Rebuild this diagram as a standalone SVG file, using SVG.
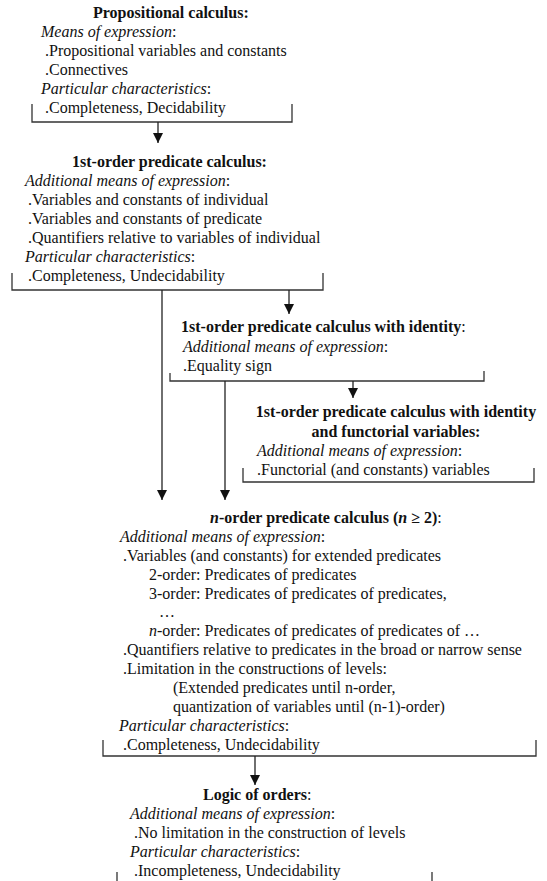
<svg xmlns="http://www.w3.org/2000/svg" width="547" height="881" viewBox="0 0 547 881">
<defs>
<style>
text{font-family:"Liberation Serif","Times New Roman",serif;font-size:16px;fill:#111}
.b{font-weight:bold}
.i{font-style:italic}
.br{fill:none;stroke:#333;stroke-width:1.3}
.cn{fill:none;stroke:#222;stroke-width:1.3}
</style>
<marker id="ah" viewBox="0 0 10 10" refX="10" refY="5" markerWidth="10" markerHeight="10" markerUnits="userSpaceOnUse" orient="auto">
<path d="M0,0 L10,5 L0,10 Z" fill="#111"/>
</marker>
</defs>
<rect width="547" height="881" fill="#fff"/>

<g id="node-propositional">
<text x="93" y="18" class="b">Propositional calculus:</text>
<text x="41" y="37"><tspan class="i">Means of expression</tspan>:</text>
<text x="45" y="56">.Propositional variables and constants</text>
<text x="45" y="75">.Connectives</text>
<text x="41" y="94"><tspan class="i">Particular characteristics</tspan>:</text>
<text x="45" y="113">.Completeness, Decidability</text>
<path class="br" d="M32,104 V122 H292 V104"/>
</g>

<g id="node-first-order">
<text x="72" y="167" class="b">1st-order predicate calculus:</text>
<text x="25" y="186"><tspan class="i">Additional means of expression</tspan>:</text>
<text x="28" y="205">.Variables and constants of individual</text>
<text x="28" y="224">.Variables and constants of predicate</text>
<text x="28" y="243">.Quantifiers relative to variables of individual</text>
<text x="25" y="262"><tspan class="i">Particular characteristics</tspan>:</text>
<text x="28" y="281">.Completeness, Undecidability</text>
<path class="br" d="M12,273 V290 H323 V273"/>
</g>

<g id="node-identity">
<text x="181" y="332"><tspan class="b">1st-order predicate calculus with identity</tspan>:</text>
<text x="183" y="352"><tspan class="i">Additional means of expression</tspan>:</text>
<text x="183" y="371">.Equality sign</text>
<path class="br" d="M170,373 V381 H484 V371"/>
</g>

<g id="node-functorial">
<text x="396" y="417" class="b" text-anchor="middle">1st-order predicate calculus with identity</text>
<text x="396" y="437" class="b" text-anchor="middle">and functorial variables:</text>
<text x="257" y="456"><tspan class="i">Additional means of expression</tspan>:</text>
<text x="257" y="475">.Functorial (and constants) variables</text>
<path class="br" d="M243,468 V482 H534 V468"/>
</g>

<g id="node-n-order">
<text x="210" y="523"><tspan class="b i">n</tspan><tspan class="b">-order predicate calculus (</tspan><tspan class="b i">n</tspan><tspan class="b"> ≥ 2)</tspan>:</text>
<text x="120" y="542"><tspan class="i">Additional means of expression</tspan>:</text>
<text x="123" y="561">.Variables (and constants) for extended predicates</text>
<text x="149" y="580">2-order: Predicates of predicates</text>
<text x="149" y="599">3-order: Predicates of predicates of predicates,</text>
<text x="159" y="617">…</text>
<text x="149" y="636"><tspan class="i">n</tspan>-order: Predicates of predicates of predicates of …</text>
<text x="123" y="655">.Quantifiers relative to predicates in the broad or narrow sense</text>
<text x="123" y="674">.Limitation in the constructions of levels:</text>
<text x="173" y="693">(Extended predicates until n-order,</text>
<text x="173" y="712">quantization of variables until (n-1)-order)</text>
<text x="119" y="731"><tspan class="i">Particular characteristics</tspan>:</text>
<text x="123" y="750">.Completeness, Undecidability</text>
<path class="br" d="M103,740 V756 H536 V740"/>
</g>

<g id="node-logic-of-orders">
<text x="203" y="800"><tspan class="b">Logic of orders</tspan>:</text>
<text x="130" y="819"><tspan class="i">Additional means of expression</tspan>:</text>
<text x="134" y="838">.No limitation in the construction of levels</text>
<text x="130" y="857"><tspan class="i">Particular characteristics</tspan>:</text>
<text x="134" y="876">.Incompleteness, Undecidability</text>
<path class="br" d="M117,872 V881 M432,872 V881"/>
</g>

<g id="connectors">
<line class="cn" x1="158" y1="122" x2="158" y2="143" marker-end="url(#ah)"/>
<line class="cn" x1="162" y1="290" x2="162" y2="500" marker-end="url(#ah)"/>
<line class="cn" x1="289" y1="290" x2="289" y2="314" marker-end="url(#ah)"/>
<line class="cn" x1="225" y1="381" x2="225" y2="500" marker-end="url(#ah)"/>
<line class="cn" x1="353" y1="381" x2="353" y2="398" marker-end="url(#ah)"/>
<line class="cn" x1="255" y1="756" x2="255" y2="785" marker-end="url(#ah)"/>
</g>
</svg>
